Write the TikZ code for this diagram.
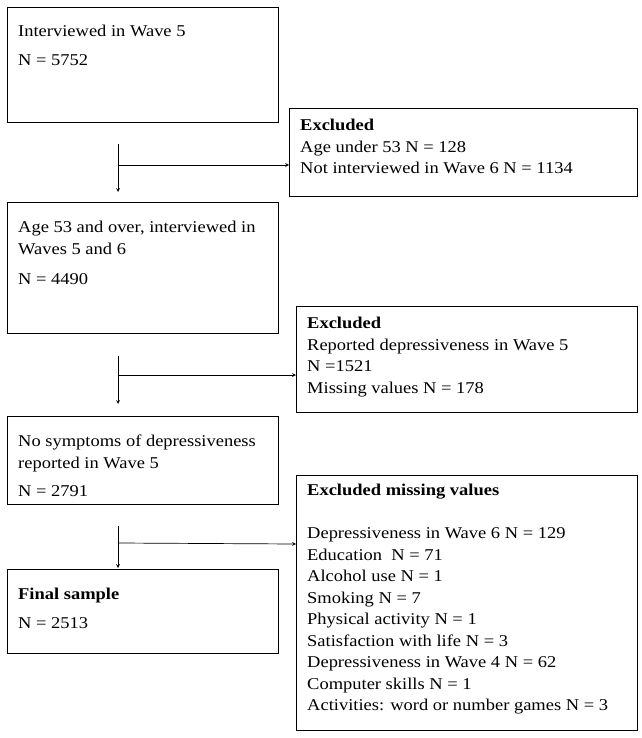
\documentclass[tikz,border=0pt]{standalone}
\usepackage{fontspec}
\setmainfont{Liberation Serif}[FakeStretch=1.12]
\begin{document}
\begin{tikzpicture}[x=1pt,y=-1pt,
  box/.style={draw,line width=0.8pt},
  txt/.style={anchor=north west,inner sep=0pt,align=left,font=\fontsize{16.5}{21.5}\selectfont},
  arr/.style={-stealth,line width=0.7pt}]
\useasboundingbox (0,0) rectangle (641,738);
\draw[box] (7,7) rectangle (278,122);
\draw[box] (7,202) rectangle (278,333);
\draw[box] (7,416) rectangle (278,504);
\draw[box] (7,569) rectangle (278,653);
\draw[box] (289,108) rectangle (637,196);
\draw[box] (296,306) rectangle (637,412);
\draw[box] (296,475) rectangle (637,730);
\node[txt] (t1) at (18,25) {Interviewed in Wave 5\\[7pt]N = 5752};
\node[txt] (t2) at (18,221) {Age 53 and over, interviewed in\\Waves 5 and 6\\[8.5pt]N = 4490};
\node[txt] (t3) at (18,435) {No symptoms of depressiveness\\reported in Wave 5\\[7pt]N = 2791};
\node[txt] (t4) at (18,588) {\textbf{Final sample}\\[7pt]N = 2513};
\node[txt] (r1) at (300,119) {\textbf{Excluded}\\Age under 53 N = 128\\Not interviewed in Wave 6 N = 1134};
\node[txt] (r2) at (307,317) {\textbf{Excluded}\\Reported depressiveness in Wave 5\\N =1521\\Missing values N = 178};
\node[txt] (r3) at (307,484) {\textbf{Excluded missing values}\\[21.5pt]Depressiveness in Wave 6 N = 129\\Education\ \ N = 71\\Alcohol use N = 1\\Smoking N = 7\\Physical activity N = 1\\Satisfaction with life N = 3\\Depressiveness in Wave 4 N = 62\\Computer skills N = 1\\Activities: word or number games N = 3};
\coordinate (a1) at (118,144); \coordinate (b1) at (118,192); \coordinate (h1) at (118,165); \coordinate (e1) at (289,165);
\coordinate (a2) at (118,356); \coordinate (b2) at (118,404); \coordinate (h2) at (118,375); \coordinate (e2) at (296,375);
\coordinate (a3) at (118,526); \coordinate (b3) at (118,568); \coordinate (h3) at (118,543); \coordinate (e3) at (296,544);
\draw[arr] (a1) -- (b1); \draw[arr] (h1) -- (e1);
\draw[arr] (a2) -- (b2); \draw[arr] (h2) -- (e2);
\draw[arr] (a3) -- (b3); \draw[arr] (h3) -- (e3);
\end{tikzpicture}
\end{document}
